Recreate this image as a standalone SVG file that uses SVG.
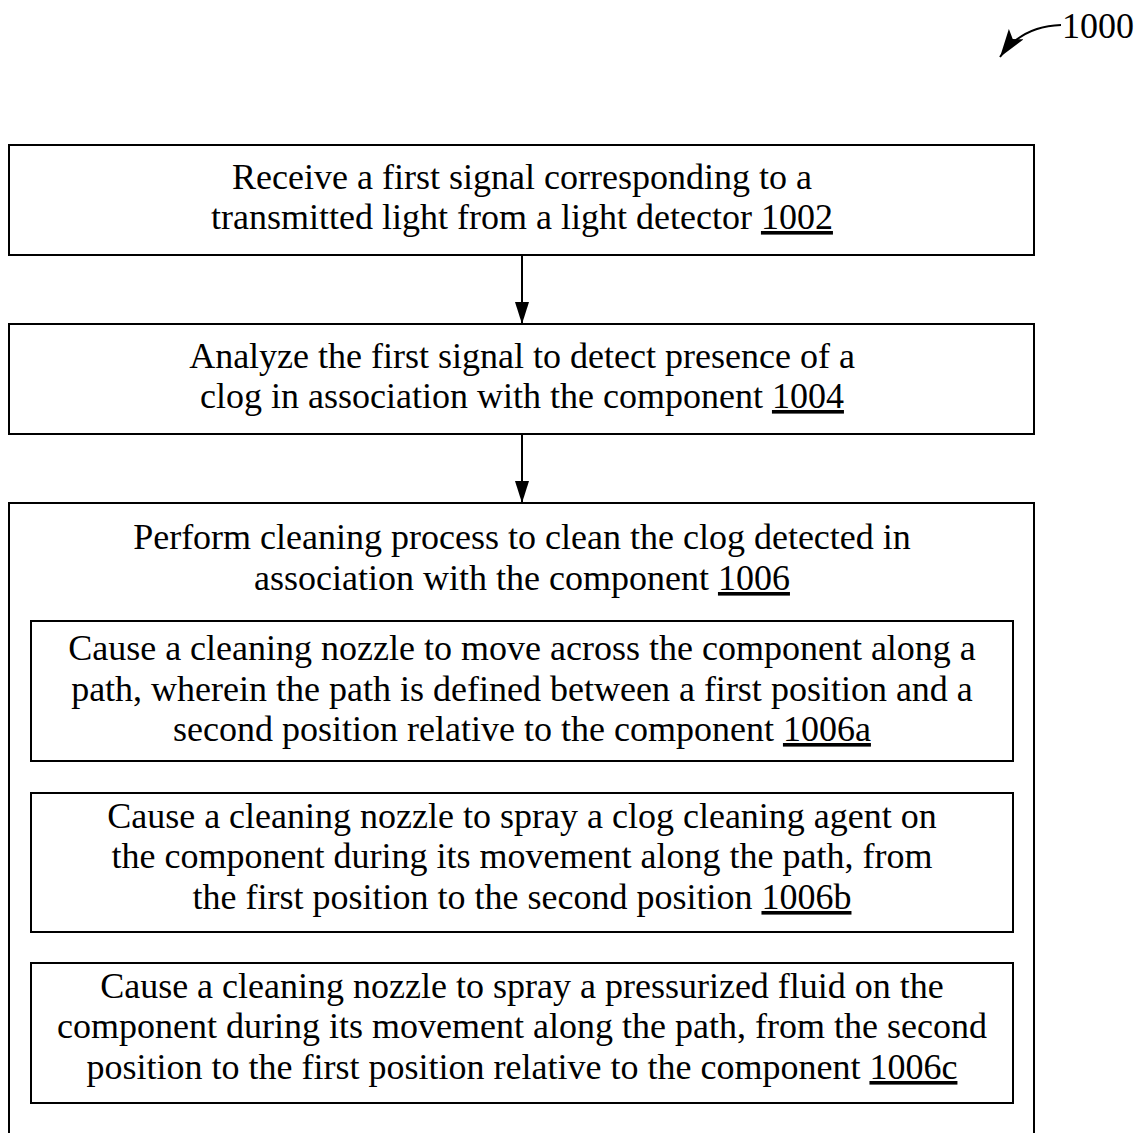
<svg xmlns="http://www.w3.org/2000/svg" width="1136" height="1133" viewBox="0 0 1136 1133">
<defs>
<marker id="ah" markerWidth="22" markerHeight="14" refX="22" refY="7" orient="auto" markerUnits="userSpaceOnUse" viewBox="0 0 22 14">
<path d="M0,0 L22,7 L0,14 Z" fill="#000"/>
</marker>
<marker id="ah2" markerWidth="30" markerHeight="18" refX="28" refY="9" orient="auto" markerUnits="userSpaceOnUse" viewBox="0 0 30 18">
<path d="M0,0 L28,9 L0,18 L6,9 Z" fill="#000"/>
</marker>
<style>
.box{fill:#fff;stroke:#000;stroke-width:2}
.t{font-family:"Liberation Serif","Times New Roman",serif;font-size:36px;fill:#000;text-anchor:middle}
.u{text-decoration:underline}
.c{fill:none;stroke:#000;stroke-width:2}
</style>
</defs>
<rect width="1136" height="1133" fill="#fff"/>
<g id="ref1000">
<path d="M1061,25 Q1022,26 1000,57" class="c" marker-end="url(#ah2)"/>
<text x="1062" y="38" style="font-family:'Liberation Serif','Times New Roman',serif;font-size:36px">1000</text>
</g>
<g id="n1002">
<rect class="box" x="9" y="145" width="1025" height="110"/>
<text class="t" x="522" y="189">Receive a first signal corresponding to a</text>
<text class="t" x="522" y="229">transmitted light from a light detector <tspan class="u">1002</tspan></text>
</g>
<g id="n1004">
<rect class="box" x="9" y="324" width="1025" height="110"/>
<text class="t" x="522" y="368">Analyze the first signal to detect presence of a</text>
<text class="t" x="522" y="408">clog in association with the component <tspan class="u">1004</tspan></text>
</g>
<g id="n1006">
<path class="c" d="M9,1140 L9,503 L1034,503 L1034,1140"/>
<text class="t" x="522" y="549">Perform cleaning process to clean the clog detected in</text>
<text class="t" x="522" y="590">association with the component <tspan class="u">1006</tspan></text>
</g>
<g id="n1006a">
<rect class="box" x="31" y="621" width="982" height="140"/>
<text class="t" x="522" y="660">Cause a cleaning nozzle to move across the component along a</text>
<text class="t" x="522" y="701">path, wherein the path is defined between a first position and a</text>
<text class="t" x="522" y="741">second position relative to the component <tspan class="u">1006a</tspan></text>
</g>
<g id="n1006b">
<rect class="box" x="31" y="793" width="982" height="139"/>
<text class="t" x="522" y="828">Cause a cleaning nozzle to spray a clog cleaning agent on</text>
<text class="t" x="522" y="868">the component during its movement along the path, from</text>
<text class="t" x="522" y="909">the first position to the second position <tspan class="u">1006b</tspan></text>
</g>
<g id="n1006c">
<rect class="box" x="31" y="963" width="982" height="140"/>
<text class="t" x="522" y="998">Cause a cleaning nozzle to spray a pressurized fluid on the</text>
<text class="t" x="522" y="1038">component during its movement along the path, from the second</text>
<text class="t" x="522" y="1079">position to the first position relative to the component <tspan class="u">1006c</tspan></text>
</g>
<g id="connectors">
<line class="c" x1="522" y1="255" x2="522" y2="324" marker-end="url(#ah)"/>
<line class="c" x1="522" y1="434" x2="522" y2="503" marker-end="url(#ah)"/>
</g>
</svg>
